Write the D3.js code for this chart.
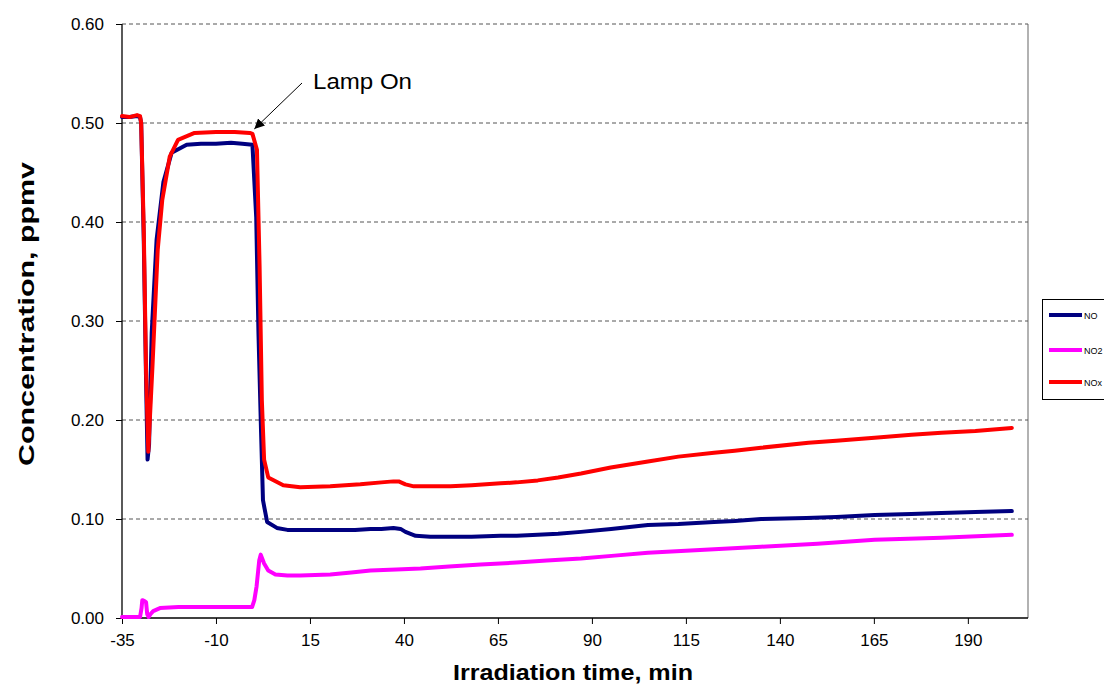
<!DOCTYPE html>
<html>
<head>
<meta charset="utf-8">
<script src="https://cdn.jsdelivr.net/npm/d3@7"></script>
<style>
  html, body { margin: 0; padding: 0; background: #fff; }
  svg { display: block; font-family: "Liberation Sans", Arial, sans-serif; }
</style>
</head>
<body>
<svg id="chart" width="1104" height="684"></svg>
<script>
// ---- Data ----
const xTicks = [-35, -10, 15, 40, 65, 90, 115, 140, 165, 190];
const yTicks = [0.0, 0.1, 0.2, 0.3, 0.4, 0.5, 0.6];
const seriesNames = ["NO", "NO2", "NOx"];
const seriesColors = ["#000080", "#FF00FF", "#FF0000"];

const noTime = [-35, -33, -31, -30.2, -29.9, -29.2, -28.6, -28.2, -27.8, -27.1, -25.8, -24.0, -21.8, -17.8, -14, -10, -6, -3, -0.3,
  0.7, 1.3, 2.0, 2.5, 3.6, 6.2, 9, 12.4, 17, 23.1, 27, 31.1, 34, 37.2, 39.1, 40.4, 43.1, 47, 52.4, 58, 65.7, 70, 75.6, 81, 87.1,
  95.1, 104.9, 113, 122.5, 128, 135, 147, 155, 165.2, 175, 183, 192, 201.7];
const noValues = [0.506, 0.506, 0.507, 0.506, 0.500, 0.380, 0.240, 0.160, 0.175, 0.288, 0.382, 0.440, 0.470, 0.478, 0.479, 0.479, 0.480, 0.479, 0.478,
  0.405, 0.288, 0.187, 0.119, 0.097, 0.091, 0.089, 0.089, 0.089, 0.089, 0.089, 0.090, 0.090, 0.091, 0.090, 0.087, 0.083, 0.082, 0.082, 0.082, 0.083, 0.083, 0.084, 0.085, 0.087,
  0.090, 0.094, 0.095, 0.097, 0.098, 0.100, 0.101, 0.102, 0.104, 0.105, 0.106, 0.107, 0.108];

const no2Time = [-35, -32, -30.2, -29.8, -29.6, -29.0, -28.6, -28.3, -27.9, -27.4, -26.7, -24.9, -20, -15, -10, -5, -0.4,
  0.2, 0.8, 1.5, 1.9, 2.8, 3.9, 5.8, 9, 12.4, 20.4, 26, 31.1, 38, 44.4, 52, 60.4, 70, 78, 87.1, 96, 104.9, 120, 135, 150, 165.2, 183, 201.7];
const no2Values = [0.001, 0.001, 0.001, 0.010, 0.018, 0.017, 0.016, 0.004, 0.001, 0.004, 0.007, 0.010, 0.011, 0.011, 0.011, 0.011, 0.011,
  0.018, 0.032, 0.058, 0.064, 0.055, 0.048, 0.044, 0.043, 0.043, 0.044, 0.046, 0.048, 0.049, 0.050, 0.052, 0.054, 0.056, 0.058, 0.060, 0.063, 0.066, 0.069, 0.072, 0.075, 0.079, 0.081, 0.084];

const noxTime = [-35, -33, -31, -30.2, -29.9, -29.2, -28.6, -28.0, -27.6, -26.9, -25.5, -24.3, -22.3, -20.1, -15.7, -10, -5, -1, -0.3,
  0.9, 1.6, 2.2, 2.8, 3.9, 7.9, 12.4, 20.4, 28.4, 34, 37.2, 38.6, 40.4, 42.6, 47, 52.4, 58, 65.7, 70, 75.6, 81, 87.1,
  95, 104.9, 113, 122.5, 128, 135, 147.6, 155, 165.2, 175, 183, 192, 201.7];
const noxValues = [0.507, 0.506, 0.508, 0.507, 0.500, 0.390, 0.250, 0.168, 0.200, 0.254, 0.372, 0.422, 0.466, 0.483, 0.490, 0.491, 0.491, 0.490, 0.489,
  0.473, 0.355, 0.220, 0.160, 0.142, 0.134, 0.132, 0.133, 0.135, 0.137, 0.138, 0.138, 0.135, 0.133, 0.133, 0.133, 0.134, 0.136, 0.137, 0.139, 0.142, 0.146,
  0.152, 0.158, 0.163, 0.167, 0.169, 0.172, 0.177, 0.179, 0.182, 0.185, 0.187, 0.189, 0.192];

// ---- Layout ----
const svg = d3.select("#chart");
const plotL = 122, plotR = 1028, plotT = 24, plotB = 618;
const x = d3.scaleLinear().domain([-35, 206]).range([plotL, plotR]);
const y = d3.scaleLinear().domain([0, 0.6]).range([plotB, plotT]);

// plot border (right side, grey)
svg.append("line").attr("x1", plotR).attr("x2", plotR).attr("y1", plotT).attr("y2", plotB)
  .attr("stroke", "#999").attr("stroke-width", 1.5);

// gridlines
svg.append("g").selectAll("line").data(yTicks.filter(d => d > 0)).join("line")
  .attr("x1", plotL).attr("x2", plotR)
  .attr("y1", d => y(d)).attr("y2", d => y(d))
  .attr("stroke", "#555").attr("stroke-width", 1).attr("stroke-dasharray", "4,3");

// axes
const yAxis = d3.axisLeft(y).tickValues(yTicks).tickFormat(d3.format(".2f")).tickSize(6).tickPadding(12);
const gy = svg.append("g").attr("transform", `translate(${plotL},0)`).call(yAxis);
const xAxis = d3.axisBottom(x).tickValues(xTicks).tickFormat(d => String(d)).tickSize(6).tickPadding(10);
const gx = svg.append("g").attr("transform", `translate(0,${plotB})`).call(xAxis);
[gx, gy].forEach(g => {
  g.select(".domain").attr("stroke", "#000").attr("stroke-width", 1.3);
  g.selectAll(".tick line").attr("stroke", "#000");
  g.selectAll(".tick text").attr("fill", "#000").style("font-size", "17px")
    .style("font-family", "'Liberation Sans', Arial, sans-serif");
});
gx.select(".domain").attr("d", `M${plotL},0H${plotR}`);
gy.select(".domain").attr("d", `M0,${plotB}V${plotT}`);

// lines
const lineGen = d3.line().x(d => x(d[0])).y(d => y(d[1]));
const series = [
  { name: seriesNames[0], t: noTime, v: noValues, color: seriesColors[0] },
  { name: seriesNames[1], t: no2Time, v: no2Values, color: seriesColors[1] },
  { name: seriesNames[2], t: noxTime, v: noxValues, color: seriesColors[2] }
];
series.forEach(s => {
  svg.append("path")
    .datum(s.t.map((t, i) => [t, s.v[i]]))
    .attr("d", lineGen)
    .attr("fill", "none")
    .attr("stroke", s.color)
    .attr("stroke-width", 4)
    .attr("stroke-linejoin", "round")
    .attr("stroke-linecap", "round");
});

// annotation: Lamp On
svg.append("defs").append("marker")
  .attr("id", "arrow").attr("viewBox", "0 0 10 10")
  .attr("refX", 10).attr("refY", 5)
  .attr("markerWidth", 10).attr("markerHeight", 10)
  .attr("markerUnits", "userSpaceOnUse")
  .attr("orient", "auto")
  .append("path").attr("d", "M0,0L10,5L0,10z").attr("fill", "#000");
svg.append("line")
  .attr("x1", 302).attr("y1", 83)
  .attr("x2", x(0.2)).attr("y2", y(0.494))
  .attr("stroke", "#000").attr("stroke-width", 1)
  .attr("marker-end", "url(#arrow)");
svg.append("text").attr("x", 313).attr("y", 89)
  .style("font-size", "22px").attr("fill", "#000")
  .attr("textLength", 99).attr("lengthAdjust", "spacingAndGlyphs").text("Lamp On");

// axis titles
svg.append("text")
  .attr("x", 573).attr("y", 680).attr("text-anchor", "middle")
  .style("font-size", "22px").style("font-weight", "bold")
  .attr("textLength", 240).attr("lengthAdjust", "spacingAndGlyphs").text("Irradiation time, min");
svg.append("text")
  .attr("transform", "translate(34,314) rotate(-90)").attr("text-anchor", "middle")
  .style("font-size", "22px").style("font-weight", "bold")
  .attr("textLength", 304).attr("lengthAdjust", "spacingAndGlyphs").text("Concentration, ppmv");

// legend
const lg = svg.append("g");
lg.append("rect").attr("x", 1042.5).attr("y", 299.5).attr("width", 80).attr("height", 100)
  .attr("fill", "#fff").attr("stroke", "#000").attr("stroke-width", 1);
const legY = [315, 350, 382];
series.forEach((s, i) => {
  lg.append("line").attr("x1", 1049).attr("x2", 1082).attr("y1", legY[i]).attr("y2", legY[i])
    .attr("stroke", s.color).attr("stroke-width", 4);
  lg.append("text").attr("x", 1084).attr("y", legY[i] + 3.5)
    .style("font-size", "9px").attr("fill", "#000").text(s.name);
});
</script>
</body>
</html>
